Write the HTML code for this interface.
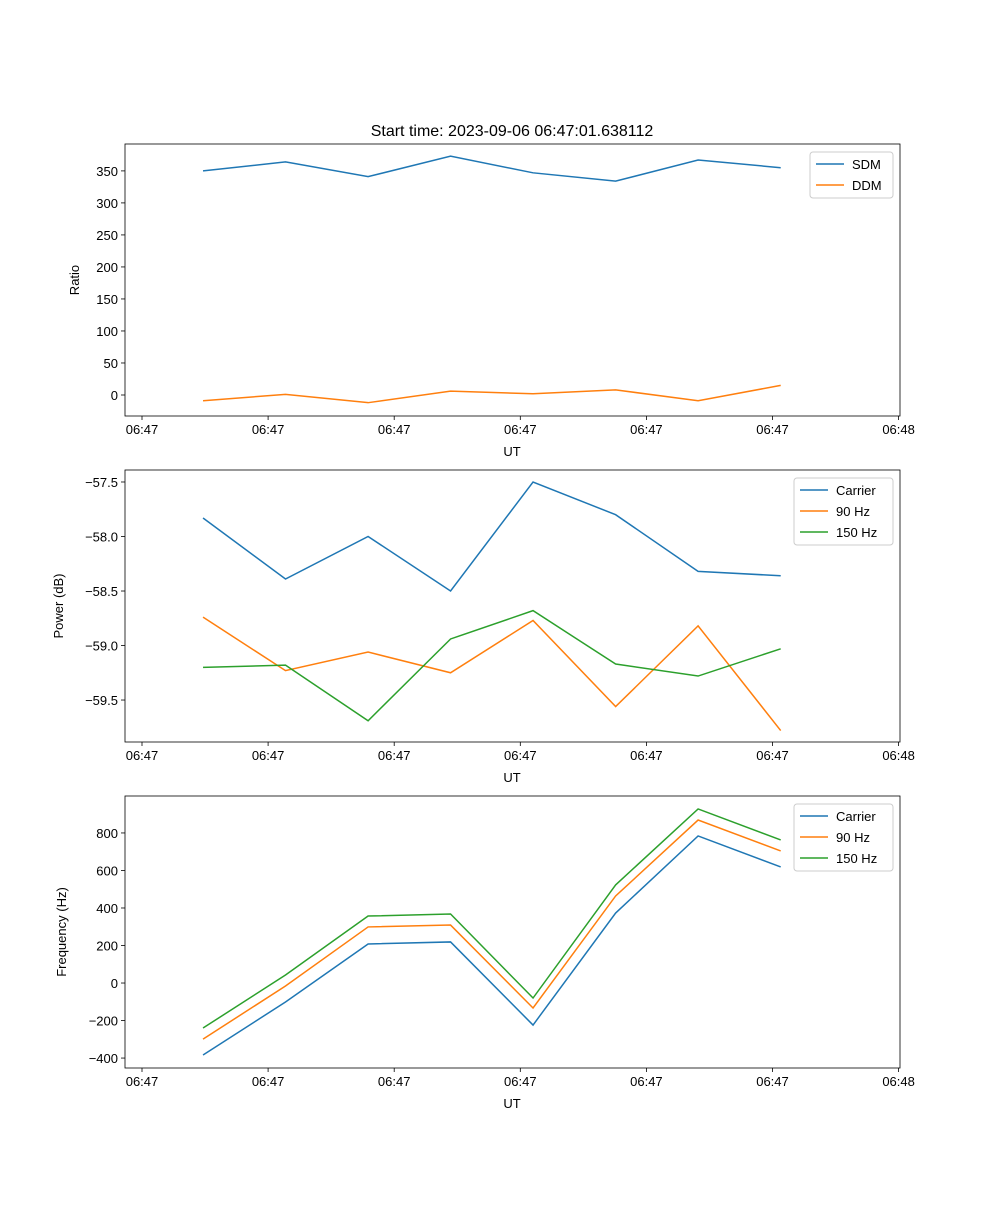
<!DOCTYPE html>
<html><head><meta charset="utf-8"><style>
body{margin:0;background:#fff;}
svg text{font-family:"Liberation Sans",sans-serif;}
</style></head><body>
<svg id="fig" width="1000" height="1200" xmlns="http://www.w3.org/2000/svg">
<rect width="1000" height="1200" fill="#fff"/>
<text x="512" y="136" font-size="16" text-anchor="middle">Start time: 2023-09-06 06:47:01.638112</text>
</svg>
<script>
const xTickLabels = ["06:47","06:47","06:47","06:47","06:47","06:47","06:48"];
const times = [0.484,1.138,1.793,2.447,3.101,3.756,4.410,5.065];
const sdm = [350,364,341,373,347,334,367,355];
const ddm = [-9,1,-12,6,2,8,-9,15];
const pCarrier = [-57.83,-58.39,-58.0,-58.5,-57.5,-57.80,-58.32,-58.36];
const p90 = [-58.74,-59.23,-59.06,-59.25,-58.77,-59.56,-58.82,-59.78];
const p150 = [-59.20,-59.18,-59.69,-58.94,-58.68,-59.17,-59.28,-59.03];
const fCarrier = [-384,-101,208,219,-224,373,784,619];
const f90 = [-299,-16,299,309,-133,464,869,704];
const f150 = [-240,43,357,368,-80,523,928,763];
const ratioTicks = [0,50,100,150,200,250,300,350];
const powerTicks = [-57.5,-58.0,-58.5,-59.0,-59.5];
const freqTicks = [-400,-200,0,200,400,600,800];

const NS="http://www.w3.org/2000/svg";
const svg=document.getElementById('fig');
const C=["#1f77b4","#ff7f0e","#2ca02c"];
function el(tag,attrs,parent){const e=document.createElementNS(NS,tag);for(const k in attrs)e.setAttribute(k,attrs[k]);(parent||svg).appendChild(e);return e;}
const X0=125,X1=900;
function xs(t){return 142+126.1*t;}

function panel(name,top,bot,ymin,ymax,yticks,fmt,ylabel,ylabelX,series,legend){
  const g=el('g',{});
  
  
  const ys=v=>bot-(v-ymin)/(ymax-ymin)*(bot-top);
  // ticks x
  xTickLabels.forEach((l,i)=>{
    const x=xs(i);
    el('line',{x1:x,x2:x,y1:bot,y2:bot+4,stroke:'#000','stroke-width':0.8},g);
    const t=el('text',{x:x,y:bot+18,'font-size':13,'text-anchor':'middle'},g);t.textContent=l;
    
    
  });
  yticks.forEach(v=>{
    const y=ys(v);
    el('line',{x1:X0-4,x2:X0,y1:y,y2:y,stroke:'#000','stroke-width':0.8},g);
    const t=el('text',{x:X0-7,y:y+5,'font-size':13,'text-anchor':'end'},g);t.textContent=fmt(v);
    
    
  });
  const xl=el('text',{x:512,y:bot+40,'font-size':13,'text-anchor':'middle'},g);xl.textContent='UT';
  
  
  const cy=(top+bot)/2;
  const yl=el('text',{x:ylabelX,y:cy,'font-size':13,'text-anchor':'middle',transform:`rotate(-90 ${ylabelX} ${cy})`},g);yl.textContent=ylabel;
  
  
  series.forEach((s,i)=>{
    const p=el('polyline',{points:s.map((v,j)=>xs(times[j])+','+ys(v)).join(' '),fill:'none',stroke:C[i],'stroke-width':1.5},g);
    
    
  });
  el('rect',{x:X0,y:top,width:X1-X0,height:bot-top,fill:'none',stroke:'#000','stroke-width':0.8},g);
  const lw=legend.length===2?83:99, lx=X1-7-lw, ly=top+8;
  const lg=el('g',{},g);
  
  
  el('rect',{x:lx,y:ly,width:lw,height:legend.length*21+4,fill:'#fff',stroke:'#ccc',rx:3},lg);
  legend.forEach((n,i)=>{
    const yy=ly+12+i*21;
    el('line',{x1:lx+6,x2:lx+34,y1:yy,y2:yy,stroke:C[i],'stroke-width':1.5},lg);
    const t=el('text',{x:lx+42,y:yy+5,'font-size':13},lg);t.textContent=n;
    
    
  });
}
const minus=s=>String(s).replace('-','\u2212');
panel('ratio',144,416,-32.8,392,ratioTicks,v=>minus(v),'Ratio',79,[sdm,ddm],['SDM','DDM']);
panel('power',470,742,-59.885,-57.39,powerTicks,v=>minus(v.toFixed(1)),'Power (dB)',63,[pCarrier,p90,p150],['Carrier','90 Hz','150 Hz']);
panel('frequency',796,1068,-453,997,freqTicks,v=>minus(v),'Frequency (Hz)',66,[fCarrier,f90,f150],['Carrier','90 Hz','150 Hz']);
</script>
</body></html>
